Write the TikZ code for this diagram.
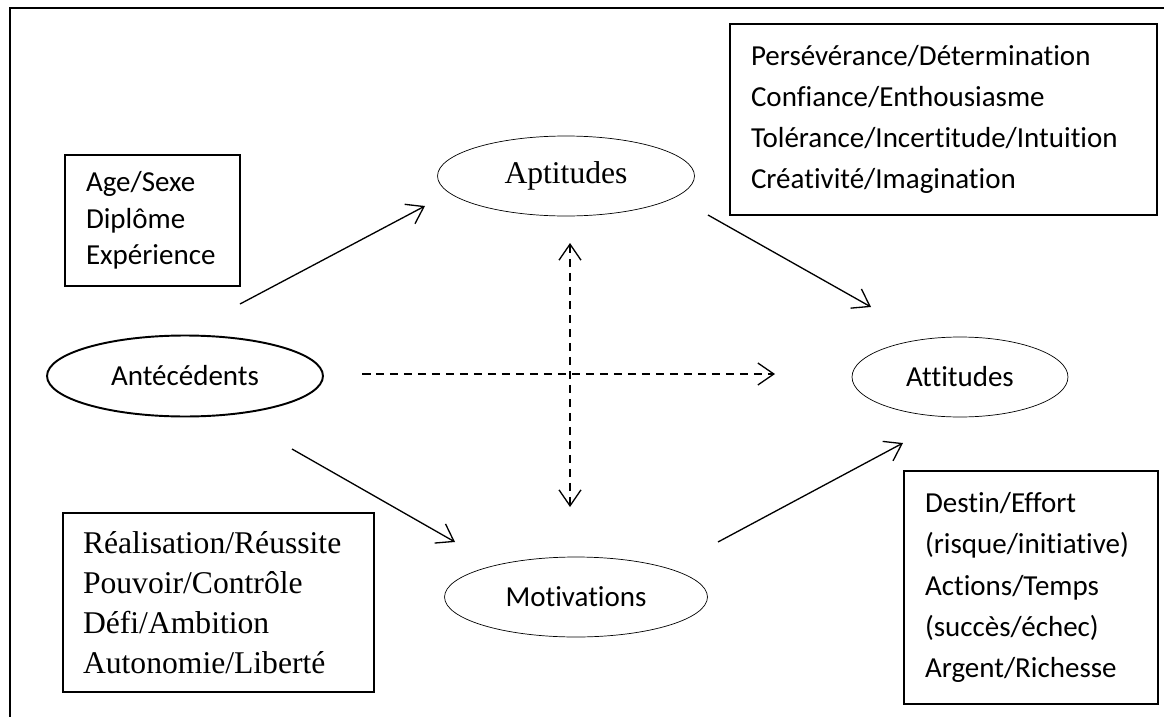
\documentclass[tikz,border=0pt]{standalone}
\usepackage{fontspec}
\setmainfont{Liberation Serif}
\newfontfamily\calib[Ligatures=NoCommon]{Carlito}
\usetikzlibrary{shapes.geometric,arrows.meta}

\begin{document}
\begin{tikzpicture}[x=0.02cm,y=-0.02cm,
    >={Straight Barb[length=3.2mm,width=4.4mm]},
    oval/.style={draw,ellipse,inner sep=0pt,minimum height=1.6cm,line width=0.4pt},
    listbox/.style={draw,line width=0.8pt,align=left,inner xsep=0.42cm,inner ysep=0pt},
    sans/.style={font=\calib\fontsize{16.5}{23.4}\selectfont},
    serif/.style={font=\fontsize{18}{22.8}\selectfont},
    link/.style={->,line width=0.75pt},
    dlink/.style={line width=0.75pt,dash pattern=on 0.17cm off 0.11cm}]
  \useasboundingbox (0,0) rectangle (1164,717);
  \draw[line width=1.1pt] (10,717) -- (10,8) -- (1164,8);

  % the four poles
  \node[oval,sans,line width=1.1pt,minimum width=5.52cm,minimum height=1.62cm] (ante) at (185,376) {Antécédents};
  \node[oval,serif,minimum width=5.14cm] (apti) at (566,176) {Aptitudes};
  \node[oval,sans,minimum width=4.32cm] (atti) at (960,377) {Attitudes};
  \node[oval,sans,minimum width=5.26cm] (moti) at (576,597) {Motivations};

  % the lists
  \node[listbox,font=\calib\fontsize{16.5}{20.8}\selectfont,text width=2.66cm,minimum height=2.62cm] (antebox) at (152.5,220.5)
    {Age/Sexe\\Diplôme\\Expérience};
  \node[listbox,sans,text width=7.7cm,minimum height=3.82cm] (aptibox) at (943.5,119.5)
    {Persévérance/Détermination\\Confiance/Enthousiasme\\Tolérance/Incertitude/Intuition\\Créativité/Imagination};
  \node[listbox,sans,text width=4.24cm,minimum height=4.66cm] (attibox) at (1031,587.5)
    {Destin/Effort\\(risque/initiative)\\Actions/Temps\\(succès/échec)\\Argent/Richesse};
  \node[listbox,serif,inner xsep=0.4cm,text width=5.42cm,minimum height=3.58cm] (motibox) at (218.5,602.5)
    {Réalisation/Réussite\\Pouvoir/Contrôle\\Défi/Ambition\\Autonomie/Liberté};

  % ends of the arrows
  \coordinate (ante-up) at (240,304);   \coordinate (apti-in) at (425,206);
  \coordinate (apti-out) at (708,215);  \coordinate (atti-up) at (871,307);
  \coordinate (ante-down) at (292,449); \coordinate (moti-in) at (455,542);
  \coordinate (moti-out) at (718,542);  \coordinate (atti-down) at (903,443);
  \coordinate (ante-mid) at (362,374);  \coordinate (atti-mid) at (775,374);
  \coordinate (apti-low) at (570,243);  \coordinate (moti-high) at (570,507);

  \draw[link] (ante-up) -- (apti-in);
  \draw[link] (apti-out) -- (atti-up);
  \draw[link] (ante-down) -- (moti-in);
  \draw[link] (moti-out) -- (atti-down);
  \draw[dlink,->] (ante-mid) -- (atti-mid);
  \draw[dlink,<->] (apti-low) -- (moti-high);
\end{tikzpicture}
\end{document}
